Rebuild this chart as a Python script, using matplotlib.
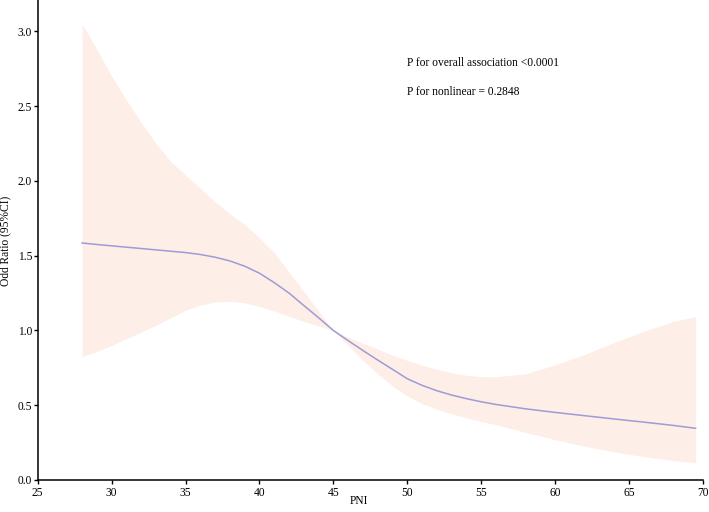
import matplotlib
matplotlib.use("Agg")
import matplotlib.pyplot as plt
from matplotlib.ticker import FormatStrFormatter

pni = [28, 29, 30, 31, 32, 33, 34, 35, 36, 37, 38, 39, 40, 41, 42, 43, 44, 45,
       46, 47, 48, 49, 50, 51, 52, 53, 54, 55, 56, 58, 60, 62, 64, 66, 68, 69.5]
odds = [1.585, 1.575, 1.566, 1.557, 1.548, 1.539, 1.530, 1.521, 1.508, 1.49, 1.465,
        1.43, 1.383, 1.32, 1.25, 1.167, 1.085, 1.0,
        0.932, 0.866, 0.802, 0.74, 0.677, 0.633, 0.597, 0.568, 0.544, 0.523, 0.505,
        0.476, 0.452, 0.43, 0.408, 0.387, 0.365, 0.346]
upper = [3.05, 2.88, 2.70, 2.54, 2.39, 2.25, 2.13, 2.04, 1.95, 1.86, 1.78, 1.71,
         1.62, 1.52, 1.39, 1.26, 1.13, 1.0,
         0.955, 0.915, 0.875, 0.835, 0.80, 0.768, 0.74, 0.717, 0.70, 0.691, 0.69,
         0.71, 0.77, 0.84, 0.92, 0.995, 1.06, 1.093]
lower = [0.825, 0.86, 0.90, 0.945, 0.99, 1.035, 1.085, 1.135, 1.17, 1.19, 1.195,
         1.185, 1.16, 1.13, 1.095, 1.06, 1.03, 1.0,
         0.90, 0.80, 0.71, 0.628, 0.562, 0.51, 0.473, 0.442, 0.416, 0.392, 0.37,
         0.318, 0.27, 0.226, 0.188, 0.156, 0.13, 0.116]
x_ticks = [25, 30, 35, 40, 45, 50, 55, 60, 65, 70]
y_ticks = [0.0, 0.5, 1.0, 1.5, 2.0, 2.5, 3.0]
p_texts = ["P for overall association <0.0001", "P for nonlinear = 0.2848"]

plt.rcParams['font.family'] = ['Liberation Serif', 'DejaVu Serif']

W, H = 709, 512
fig = plt.figure(figsize=(W / 100, H / 100), dpi=100)
ax = fig.add_axes([37.7 / W, 32 / H, (703 - 37.7) / W, 480 / H])

ax.fill_between(pni, lower, upper, color='#FDEEE7', linewidth=0)
ax.plot(pni, odds, color='#9F9BD6', linewidth=1.1)

ax.set_xlim(25, 70)
ax.set_ylim(0, 3.21)
ax.set_xticks(x_ticks)
ax.set_yticks(y_ticks)
ax.yaxis.set_major_formatter(FormatStrFormatter('%.1f'))
for s in ['top', 'right']:
    ax.spines[s].set_visible(False)
for s in ['left', 'bottom']:
    ax.spines[s].set_linewidth(1.1)
ax.tick_params(direction='out', length=3, width=1.0, labelsize=8.3)
ax.tick_params(axis='x', pad=1.8)
ax.tick_params(axis='y', pad=1.0)

fig.text(5.5 / W, 1 - 241 / H, 'Odd Ratio (95%CI)', rotation=90, fontsize=8.3,
         ha='center', va='center')
fig.text(359 / W, 1 - 501 / H, 'PNI', fontsize=8.3, ha='center', va='center')

fig.text(407 / W, 1 - 66 / H, p_texts[0], fontsize=8.3, ha='left', va='baseline')
fig.text(407 / W, 1 - 95 / H, p_texts[1], fontsize=8.3, ha='left', va='baseline')

fig.savefig('out.png', dpi=100)
